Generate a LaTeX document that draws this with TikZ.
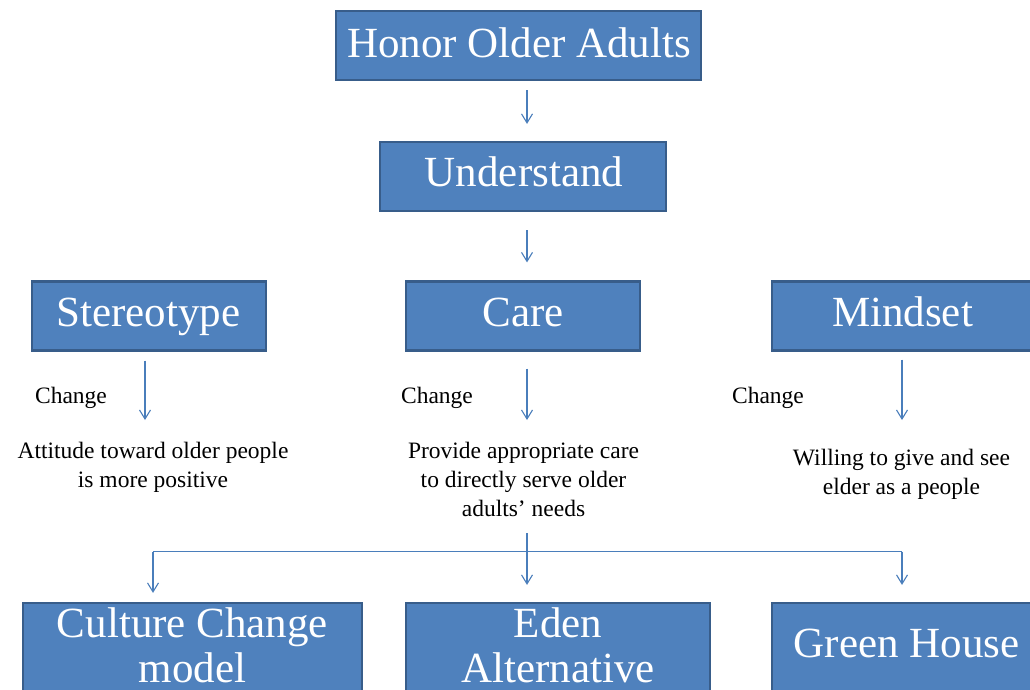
\documentclass[tikz,border=0pt]{standalone}
\usepackage{fontspec}
\setmainfont{Liberation Serif}
\usetikzlibrary{arrows.meta}
\definecolor{boxfill}{HTML}{4F81BD}
\definecolor{boxline}{HTML}{385D8A}
\definecolor{arrowc}{HTML}{4A7EBB}
\begin{document}
\begin{tikzpicture}[x=1pt,y=-1pt,
 box/.style={draw=boxline, line width=2.2pt, fill=boxfill, inner sep=0pt},
 big/.style={text=white, font=\fontsize{43}{45}\selectfont, inner sep=0pt, align=center, anchor=base},
 small/.style={font=\fontsize{23.5}{29}\selectfont, inner sep=0pt, align=center, anchor=base},
 arr/.style={draw=arrowc, line width=1.1pt, -{Straight Barb[length=9pt,width=11pt,line width=1.1pt]}},
 link/.style={draw=arrowc, line width=1.1pt}]
\useasboundingbox (0,0) rectangle (1030,689);
\clip (0,0) rectangle (1030,689);
% boxes
\node[box, minimum width=365pt, minimum height=69pt] (honor) at (518.5,45.5) {};
\node[box, minimum width=286pt, minimum height=69pt] (understand) at (523,176.5) {};
\node[box, minimum width=234pt, minimum height=69pt] (stereo) at (149,316) {};
\node[box, minimum width=234pt, minimum height=69pt] (care) at (523,316) {};
\node[box, minimum width=262pt, minimum height=69pt] (mindset) at (903,316) {};
\node[box, minimum width=339pt, minimum height=118pt] (culture) at (192.5,662) {};
\node[box, minimum width=304pt, minimum height=118pt] (eden) at (558,662) {};
\node[box, minimum width=270pt, minimum height=118pt] (green) at (907,662) {};
% box texts (anchor=base is the baseline of the last line)
\node[big] (honorT) at (519,57) {Honor Older Adults};
\node[big] (understandT) at (524,186) {Understand};
\node[big] (stereoT) at (148.5,326) {Stereotype};
\node[big] (careT) at (523,326) {Care};
\node[big] (mindsetT) at (902.5,326) {Mindset};
\node[big] (cultureT) at (192.5,682) {Culture Change\\model};
\node[big] (edenT) at (558,682) {Eden\\Alternative};
\node[big] (greenT) at (906.5,657) {Green House};
% small texts
\node[small] (ch1) at (71,403) {Change};
\node[small] (ch2) at (437,403) {Change};
\node[small] (ch3) at (768,403) {Change};
\node[small] (t1) at (153,487) {Attitude toward older people\\is more positive};
\node[small] (t2) at (523.5,516) {Provide appropriate care\\to directly serve older\\adults’ needs};
\node[small] (t3) at (901.5,494) {Willing to give and see\\elder as a people};
% coordinates
\coordinate (mid) at (527,0);
\coordinate (e1) at (145,420);
\coordinate (e2) at (527,420);
\coordinate (e3) at (902,420);
\coordinate (stem) at (527,533);
\coordinate (busL) at (153,551.5);
\coordinate (busR) at (902,551.5);
% connectors
\draw[arr, shorten <=9pt, shorten >=17pt] (honor.south -| mid) -- (understand.north -| mid);
\draw[arr, shorten <=18pt, shorten >=18pt] (understand.south -| mid) -- (care.north -| mid);
\draw[arr, shorten <=9pt] (stereo.south -| e1) -- (e1);
\draw[arr, shorten <=17pt] (care.south -| e2) -- (e2);
\draw[arr, shorten <=8pt] (mindset.south -| e3) -- (e3);
\draw[link] (busL) -- (busR);
\draw[arr, shorten >=17pt] (stem) -- (eden.north -| stem);
\draw[arr, shorten >=9pt] (busL) -- (culture.north -| busL);
\draw[arr, shorten >=17pt] (busR) -- (green.north -| busR);
\end{tikzpicture}
\end{document}
